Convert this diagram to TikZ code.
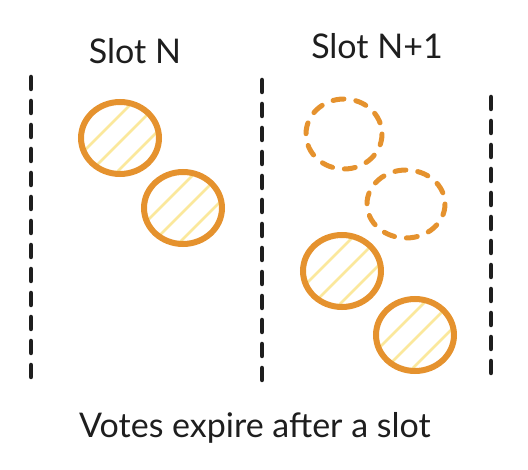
\documentclass[tikz,border=0pt]{standalone}
\usepackage{fontspec}
\setmainfont{Lato}
\definecolor{vote}{HTML}{E5922E}
\definecolor{hatch}{HTML}{FBE89C}
\definecolor{ink}{HTML}{1E1E1E}
\tikzset{
  sep/.style={draw=ink, line width=4.5pt, line cap=round, dash pattern=on 12pt off 12pt},
  vote/.style={draw=vote, line width=6pt},
  gone/.style={draw=vote, line width=5pt, line cap=round, dash pattern=on 11pt off 12pt},
  lbl/.style={text=ink, font=\fontsize{34}{38}\selectfont, inner sep=0pt},
}
\newcommand{\votecircle}[3]{%
  \begin{scope}
    \clip (#1,#2) ellipse [x radius=39, y radius=36];
    \foreach \d in {-23,4,31} {
      \draw[hatch, line width=2.5pt] ({#1+\d/2-60},{#2+\d/2+60}) -- ({#1+\d/2+60},{#2+\d/2-60});
    }
  \end{scope}
  \draw[vote] (#1,#2) ellipse [x radius=39, y radius=36];
  \node[inner sep=0pt, minimum size=0pt] (#3) at (#1,#2) {};
}
\begin{document}
\begin{tikzpicture}[x=1pt, y=-1pt]
\useasboundingbox (0,0) rectangle (528,470);
% separators
\coordinate (l1) at (31,77); \coordinate (l2) at (31,384);
\coordinate (m1) at (262,80); \coordinate (m2) at (262,380);
\coordinate (r1) at (491,97); \coordinate (r2) at (491,380);
\draw[sep] (l1) -- (l2);
\draw[sep] (m1) -- (m2);
\draw[sep] (r1) -- (r2);
% labels
\node[lbl] (slotn) at (135,51) {Slot N};
\node[lbl] (slotn1) at (377,46) {Slot N+1};
\node[lbl] (cap) at (255,428) {Votes expire after a slot};
% votes
\votecircle{120}{138}{v1}
\votecircle{183}{208}{v2}
\votecircle{342}{271}{v3}
\votecircle{415}{335}{v4}
% expired votes
\draw[gone] (344,134) ellipse [x radius=38, y radius=35];
\draw[gone] (406,204) ellipse [x radius=39, y radius=34];
\end{tikzpicture}
\end{document}
